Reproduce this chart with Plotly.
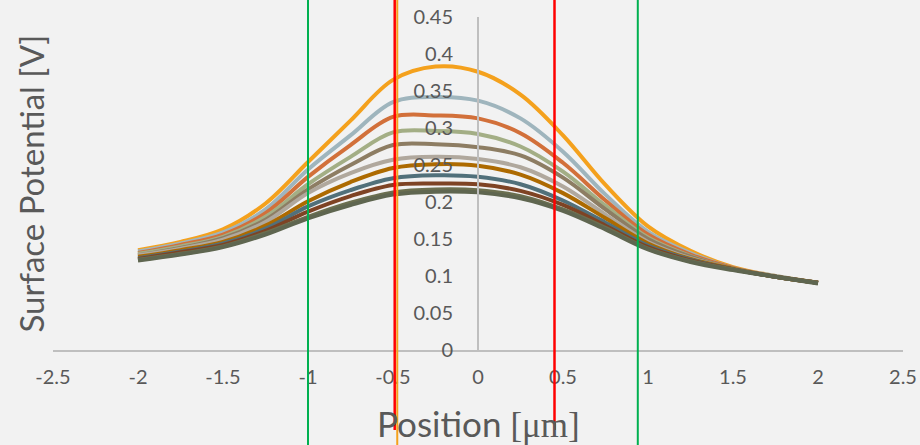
import plotly.graph_objects as go

# ---- data ----
positions = [-2, -1.75, -1.5, -1.25, -1, -0.75, -0.5, -0.25, 0, 0.25, 0.5, 0.75, 1, 1.25, 1.5, 1.75, 2]

s01 = [0.135, 0.146, 0.163, 0.198, 0.254, 0.310, 0.365, 0.383, 0.376, 0.345, 0.290, 0.223, 0.167, 0.134, 0.112, 0.100, 0.091]
s02 = [0.133, 0.144, 0.159, 0.190, 0.244, 0.290, 0.335, 0.342, 0.337, 0.313, 0.268, 0.210, 0.160, 0.131, 0.111, 0.100, 0.091]
s03 = [0.131, 0.142, 0.156, 0.185, 0.234, 0.277, 0.315, 0.317, 0.313, 0.293, 0.253, 0.202, 0.156, 0.129, 0.111, 0.099, 0.091]
s04 = [0.130, 0.140, 0.153, 0.180, 0.224, 0.261, 0.294, 0.296, 0.292, 0.275, 0.241, 0.195, 0.152, 0.127, 0.110, 0.099, 0.091]
s05 = [0.128, 0.138, 0.151, 0.176, 0.217, 0.250, 0.277, 0.278, 0.274, 0.263, 0.233, 0.190, 0.150, 0.126, 0.110, 0.099, 0.091]
s06 = [0.128, 0.137, 0.149, 0.173, 0.212, 0.239, 0.257, 0.261, 0.258, 0.247, 0.221, 0.183, 0.146, 0.124, 0.110, 0.099, 0.091]
s07 = [0.126, 0.135, 0.146, 0.168, 0.201, 0.227, 0.246, 0.251, 0.249, 0.237, 0.212, 0.178, 0.144, 0.123, 0.110, 0.099, 0.091]
s08 = [0.124, 0.133, 0.144, 0.164, 0.194, 0.216, 0.232, 0.236, 0.234, 0.224, 0.202, 0.172, 0.141, 0.122, 0.109, 0.099, 0.091]
s09 = [0.123, 0.132, 0.142, 0.161, 0.187, 0.208, 0.223, 0.225, 0.224, 0.215, 0.196, 0.168, 0.139, 0.121, 0.109, 0.099, 0.091]
s10 = [0.122, 0.130, 0.140, 0.158, 0.180, 0.199, 0.213, 0.217, 0.216, 0.208, 0.190, 0.165, 0.137, 0.120, 0.109, 0.099, 0.091]
s11 = [0.121, 0.129, 0.139, 0.156, 0.178, 0.196, 0.210, 0.214, 0.213, 0.205, 0.188, 0.163, 0.136, 0.119, 0.108, 0.099, 0.090]

series = [s01, s02, s03, s04, s05, s06, s07, s08, s09, s10, s11]
colors = ["#F4A11D", "#9FB5BD", "#D2703A", "#A3AE85", "#8D7D63", "#B0A89D",
          "#AD6A00", "#51707A", "#7E4324", "#6B6F50", "#5F6650"]

x_ticks = [-2.5, -2, -1.5, -1, -0.5, 0, 0.5, 1, 1.5, 2, 2.5]
x_tick_labels = ["-2.5", "-2", "-1.5", "-1", "-0.5", "0", "0.5", "1", "1.5", "2", "2.5"]
y_ticks = [0, 0.05, 0.1, 0.15, 0.2, 0.25, 0.3, 0.35, 0.4, 0.45]
y_tick_labels = ["0", "0.05", "0.1", "0.15", "0.2", "0.25", "0.3", "0.35", "0.4", "0.45"]

green_marks = [-1.0, 0.94]
red_marks = [-0.49, 0.45]
orange_marks = [-0.475]

FONT = "Lato"
TXT = "#595959"

fig = go.Figure()
for ys, c in zip(series, colors):
    fig.add_trace(go.Scatter(x=positions, y=ys, mode="lines",
                             line=dict(color=c, width=4, shape="spline", smoothing=1.0),
                             showlegend=False, hoverinfo="skip"))

shapes = []
for xv in orange_marks:
    shapes.append(dict(type="line", xref="x", yref="paper", x0=xv, x1=xv, y0=-1, y1=2,
                       line=dict(color="#F4A11D", width=2), layer="above"))
for xv in green_marks:
    shapes.append(dict(type="line", xref="x", yref="paper", x0=xv, x1=xv, y0=-1, y1=2,
                       line=dict(color="#00B050", width=2), layer="above"))
for xv in red_marks:
    shapes.append(dict(type="line", xref="x", yref="paper", x0=xv, x1=xv, y0=-0.24, y1=2,
                       line=dict(color="#FF0000", width=2.5), layer="above"))

fig.update_layout(
    width=920, height=445,
    margin=dict(l=53, r=17, t=17, b=95, autoexpand=False),
    paper_bgcolor="#F2F2F2", plot_bgcolor="#F2F2F2",
    font=dict(family=FONT, color=TXT, size=20),
    shapes=shapes,
    xaxis=dict(range=[-2.5, 2.5], tickvals=x_ticks, ticktext=x_tick_labels,
               showgrid=False, zeroline=False, showline=True, linecolor="#BFBFBF",
               linewidth=2, ticks="", ticklabelstandoff=8, automargin=False,
               tickfont=dict(family=FONT, size=20, color=TXT)),
    yaxis=dict(range=[0, 0.45], tickvals=y_ticks, ticktext=y_tick_labels,
               anchor="free", position=0.5, automargin=False,
               showgrid=False, zeroline=False, showline=True, linecolor="#BFBFBF",
               linewidth=2, ticks="", ticklabelstandoff=20,
               tickfont=dict(family=FONT, size=20, color=TXT)),
    annotations=[
        dict(text="Surface Potential [V]", xref="paper", yref="paper", x=-0.027, y=0.5,
             textangle=-90, showarrow=False, xanchor="center", yanchor="middle",
             font=dict(family=FONT, size=33, color=TXT)),
        dict(text="Position <span style='font-family:Liberation Serif'>[μm]</span>",
             xref="paper", yref="paper", x=0.5, y=-0.222,
             showarrow=False, xanchor="center", yanchor="middle",
             font=dict(family=FONT, size=35, color=TXT)),
    ],
)

fig.write_html("out.html", config={"displayModeBar": False},
               post_script="document.body.style.margin='0';document.body.style.padding='0';")
